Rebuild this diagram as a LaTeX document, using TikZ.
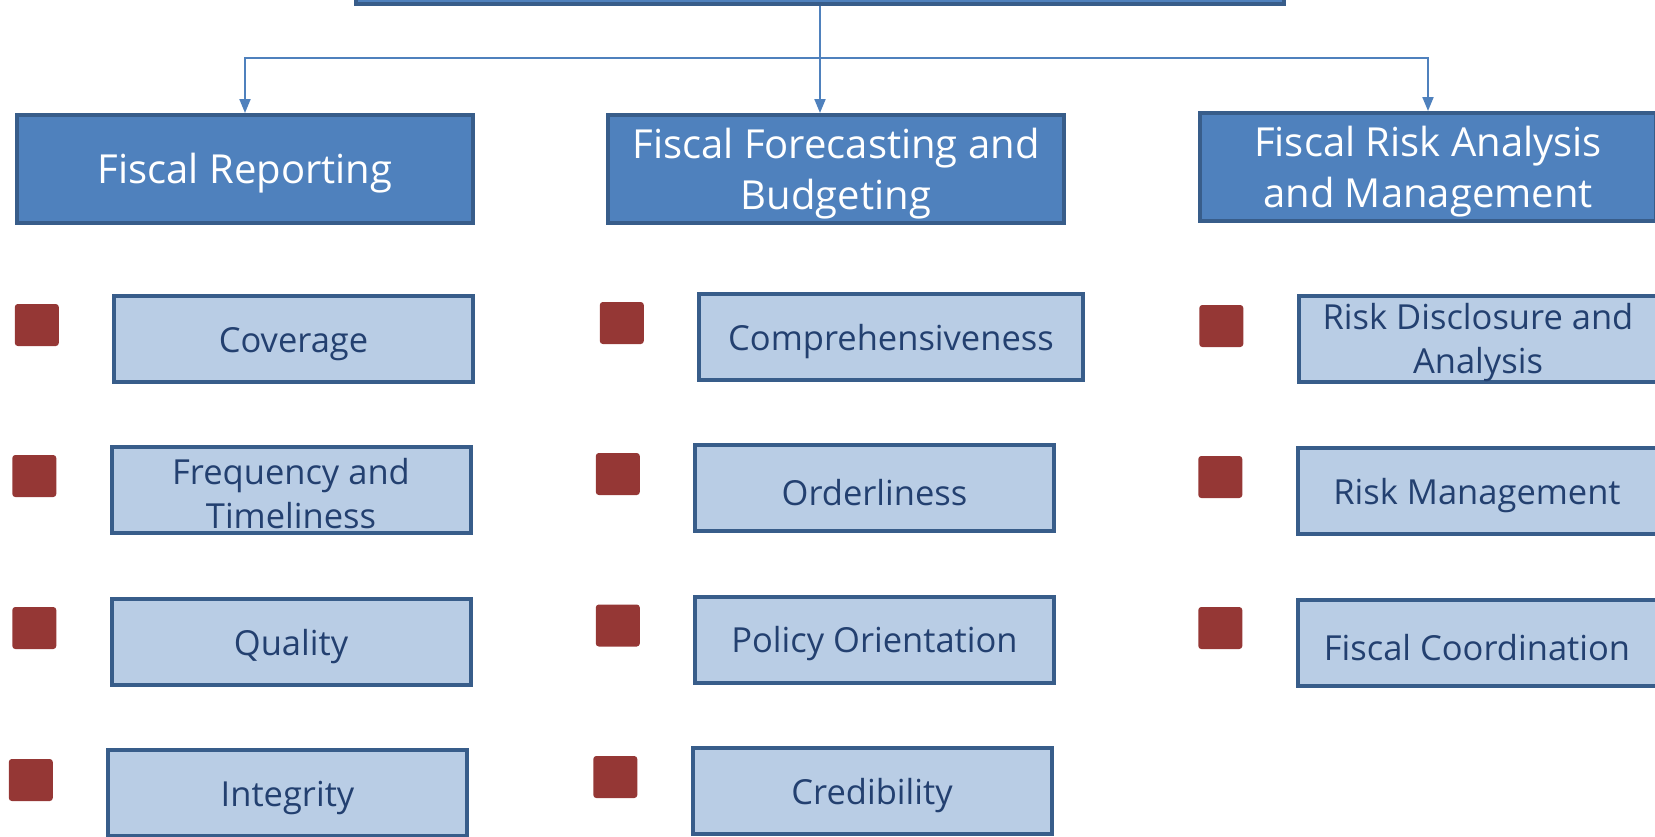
\documentclass[tikz,border=0pt]{standalone}
\usepackage{fontspec}
\setmainfont{Open Sans}
\usetikzlibrary{positioning,arrows.meta}

\definecolor{headfill}{RGB}{79,129,189}
\definecolor{headline}{RGB}{56,93,138}
\definecolor{itemfill}{RGB}{185,205,229}
\definecolor{itemtext}{RGB}{35,64,112}
\definecolor{sqred}{RGB}{149,55,53}

\tikzset{
  head/.style={draw=headline, fill=headfill, line width=4pt, text=white,
    align=center, inner sep=0pt, minimum width=456pt, minimum height=108pt,
    font=\fontsize{40}{51}\selectfont,
    execute at begin node={\rule{0pt}{38pt}}},
  item/.style={draw=headline, fill=itemfill, line width=4pt, text=itemtext,
    align=center, inner sep=0pt, minimum width=359pt, minimum height=86pt,
    font=\fontsize{34.5}{44}\selectfont,
    execute at begin node={\rule{0pt}{35pt}}},
  % two-line labels sit a little lower too
  headtwo/.style={head, execute at begin node={\rule{0pt}{90pt}}},
  itemtwo/.style={item, execute at begin node={\rule{0pt}{77pt}}},
  redsq/.style={fill=sqred, rounded corners=3pt, inner sep=0pt,
    minimum width=44pt, minimum height=42pt},
  conn/.style={draw=headfill, line width=2pt, -{Triangle[length=14pt,width=11pt]}}
}

\begin{document}
\begin{tikzpicture}[x=1pt,y=-1pt]
  \useasboundingbox (0,0) rectangle (1655,836);
  \clip (0,0) rectangle (1655,836);

  % root, only its lower edge is in view
  \node[head, minimum width=928pt, anchor=south] (m-0) at (820,6) {};

  % headers
  \node[head] (m-1-1) at (245,169) {Fiscal Reporting};
  \node[headtwo] (m-1-2) at (836,169) {Fiscal Forecasting and\\Budgeting};
  \node[headtwo] (m-1-3) at (1428,167) {Fiscal Risk Analysis\\and Management};

  % first column
  \node[item] (m-2-1) at (293.5,339) {Coverage};
  \node[itemtwo] (m-3-1) at (291,490) {Frequency and\\Timeliness};
  \node[item] (m-4-1) at (291,642) {Quality};
  \node[item] (m-5-1) at (287.5,793) {Integrity};

  % second column
  \node[item, minimum width=384pt] (m-2-2) at (891,337) {Comprehensiveness};
  \node[item] (m-3-2) at (874.5,488) {Orderliness};
  \node[item] (m-4-2) at (874.5,639.5) {Policy Orientation};
  \node[item] (m-5-2) at (872,791) {Credibility};

  % third column
  \node[itemtwo] (m-2-3) at (1478,339) {Risk Disclosure and\\Analysis};
  \node[item] (m-3-3) at (1477,491) {Risk Management};
  \node[item] (m-4-3) at (1477,643) {Fiscal Coordination};

  % red markers
  \node[redsq, left=53pt of m-2-1, yshift=14pt] (s-2-1) {};
  \node[redsq, left=53pt of m-3-1, yshift=14pt] (s-3-1) {};
  \node[redsq, left=53pt of m-4-1, yshift=14pt] (s-4-1) {};
  \node[redsq, left=53pt of m-5-1, yshift=13pt] (s-5-1) {};
  \node[redsq, left=53pt of m-2-2, yshift=14pt] (s-2-2) {};
  \node[redsq, left=53pt of m-3-2, yshift=14pt] (s-3-2) {};
  \node[redsq, left=53pt of m-4-2, yshift=14pt] (s-4-2) {};
  \node[redsq, left=53pt of m-5-2, yshift=14pt] (s-5-2) {};
  \node[redsq, left=53pt of m-2-3, yshift=13pt] (s-2-3) {};
  \node[redsq, left=53pt of m-3-3, yshift=14pt] (s-3-3) {};
  \node[redsq, left=53pt of m-4-3, yshift=15pt] (s-4-3) {};

  % connectors
  \coordinate (split) at (820,58);
  \draw[conn] (m-0.south) -- (m-0.south |- m-1-2.north);
  \draw[conn] (split) -| (m-1-1.north);
  \draw[conn] (split) -| (m-1-3.north);
\end{tikzpicture}
\end{document}
